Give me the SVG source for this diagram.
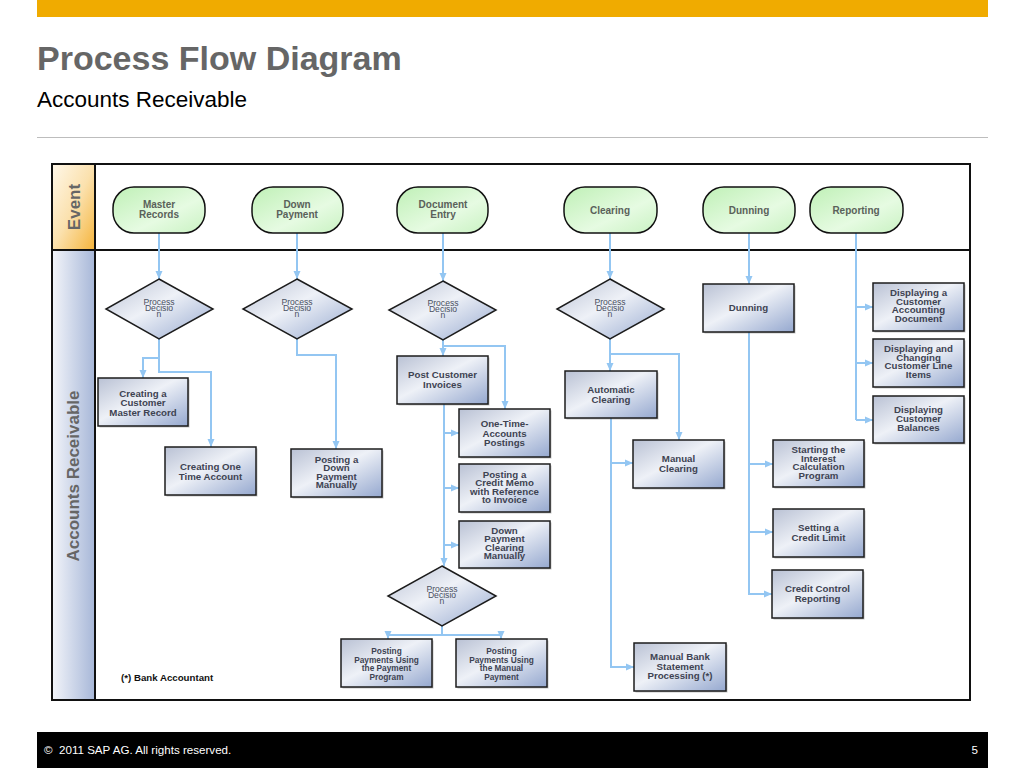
<svg xmlns="http://www.w3.org/2000/svg" width="1024" height="768" viewBox="0 0 1024 768">
<defs>
<linearGradient id="gBox" x1="0" y1="0" x2="1" y2="1">
<stop offset="0" stop-color="#b9c1d4"/>
<stop offset="0.45" stop-color="#eef1f7"/>
<stop offset="1" stop-color="#95a8cf"/>
</linearGradient>
<linearGradient id="gEv" x1="0" y1="0" x2="1" y2="1">
<stop offset="0" stop-color="#bff0b6"/>
<stop offset="0.6" stop-color="#e6fbe2"/>
<stop offset="1" stop-color="#c9f2c2"/>
</linearGradient>
<linearGradient id="gEvent" x1="0" y1="0" x2="1" y2="1">
<stop offset="0" stop-color="#fff8ea"/>
<stop offset="0.5" stop-color="#fbe1ae"/>
<stop offset="1" stop-color="#f5b43a"/>
</linearGradient>
<linearGradient id="gAR" x1="0" y1="0" x2="1" y2="0">
<stop offset="0" stop-color="#f3f5fa"/>
<stop offset="1" stop-color="#a7b7d8"/>
</linearGradient>
<marker id="arr" markerUnits="userSpaceOnUse" markerWidth="8" markerHeight="8" refX="8" refY="4" orient="auto">
<path d="M0,0.5 L8,4 L0,7.5 z" fill="#93c6f2"/>
</marker>
<style>
.sans{font-family:"Liberation Sans",Arial,sans-serif}
.box rect.b{fill:url(#gBox);stroke:#1c1c1c;stroke-width:1.5}
.box rect.s{fill:#555;opacity:0.35}
.bt{font-family:"Liberation Sans",Arial,sans-serif;font-weight:bold;font-size:9.7px;fill:#3e4352;text-anchor:middle}
.bt.sm{font-size:8.3px}
.ev rect{fill:url(#gEv);stroke:#111;stroke-width:1.5}
.et{font-family:"Liberation Sans",Arial,sans-serif;font-weight:bold;font-size:10px;fill:#5a615a;text-anchor:middle}
.dm polygon{fill:url(#gBox);stroke:#1c1c1c;stroke-width:1.5}
.dt{font-family:"Liberation Sans",Arial,sans-serif;font-size:8.6px;fill:#4a5062;text-anchor:middle}
.cn path{fill:none;stroke:#93c6f2;stroke-width:2}
.cn path.a{marker-end:url(#arr)}
</style>
</defs>
<rect width="1024" height="768" fill="#fff"/>
<!-- header -->
<rect x="37" y="0" width="951" height="17" fill="#f0ab00"/>
<text x="37" y="70" class="sans" font-size="34" font-weight="bold" fill="#666">Process Flow Diagram</text>
<text x="37" y="107" class="sans" font-size="22.5" fill="#000">Accounts Receivable</text>
<line x1="37" y1="137.5" x2="988" y2="137.5" stroke="#bdbdbd" stroke-width="1.2"/>
<!-- swimlanes -->
<g id="lanes">
<rect x="52" y="164" width="43" height="86" fill="url(#gEvent)"/>
<rect x="52" y="250" width="43" height="450" fill="url(#gAR)"/>
<rect x="52" y="164" width="918" height="536" fill="none" stroke="#111" stroke-width="2"/>
<line x1="52" y1="250" x2="970" y2="250" stroke="#111" stroke-width="2"/>
<line x1="95" y1="164" x2="95" y2="700" stroke="#111" stroke-width="2"/>
<text transform="translate(80,207) rotate(-90)" class="sans" font-size="17" font-weight="bold" fill="#666" text-anchor="middle">Event</text>
<text transform="translate(79,476) rotate(-90)" class="sans" font-size="17" font-weight="bold" fill="#666" text-anchor="middle">Accounts Receivable</text>
</g>
<!-- connectors -->
<g id="connectors" class="cn">
<path class="a" d="M159,233 V279"/>
<path class="a" d="M297,233 V279"/>
<path class="a" d="M443,233 V281"/>
<path class="a" d="M610,233 V279"/>
<path class="a" d="M749,233 V284"/>
<path d="M856,233 V420"/>
<path class="a" d="M856,307 H873"/>
<path class="a" d="M856,363 H873"/>
<path class="a" d="M856,420 H873"/>
<path class="a" d="M159,339 V372 H211 V447"/>
<path class="a" d="M159,358 H143 V378"/>
<path class="a" d="M297,339 V355 H336 V449"/>
<path class="a" d="M443,340 V356"/>
<path class="a" d="M443,346 H505 V409"/>
<path class="a" d="M444,404 V566"/>
<path class="a" d="M444,433 H459"/>
<path class="a" d="M444,488 H459"/>
<path class="a" d="M444,545 H459"/>
<path class="a" d="M610,339 V371"/>
<path class="a" d="M610,354 H679 V440"/>
<path class="a" d="M611,418 V667 H634"/>
<path class="a" d="M611,463 H633"/>
<path class="a" d="M749,332 V594 H772"/>
<path class="a" d="M749,464 H773"/>
<path class="a" d="M749,532 H773"/>
<path d="M442,626 V635 M388,635 H501"/>
<path class="a" d="M388,634 V639"/>
<path class="a" d="M501,634 V639"/>
</g>
<!-- event nodes -->
<g id="ev-master" class="ev"><rect x="113" y="187" width="92" height="46" rx="21"/><text class="et" x="159" y="207.5">Master</text><text class="et" x="159" y="217.5">Records</text></g>
<g id="ev-down" class="ev"><rect x="252" y="187" width="91" height="46" rx="21"/><text class="et" x="297" y="207.5">Down</text><text class="et" x="297" y="217.5">Payment</text></g>
<g id="ev-doc" class="ev"><rect x="397" y="187" width="91" height="46" rx="21"/><text class="et" x="443" y="207.5">Document</text><text class="et" x="443" y="217.5">Entry</text></g>
<g id="ev-clearing" class="ev"><rect x="564" y="187" width="93" height="46" rx="21"/><text class="et" x="610" y="213.5">Clearing</text></g>
<g id="ev-dunning" class="ev"><rect x="703" y="187" width="92" height="46" rx="21"/><text class="et" x="749" y="213.5">Dunning</text></g>
<g id="ev-reporting" class="ev"><rect x="810" y="187" width="93" height="46" rx="21"/><text class="et" x="856" y="213.5">Reporting</text></g>
<!-- decisions -->
<g id="dec1" class="dm"><polygon points="159,279 213,309 159,339 106,309"/><text class="dt" x="159" y="305">Process</text><text class="dt" x="159" y="311">Decisio</text><text class="dt" x="159" y="317">n</text></g>
<g id="dec2" class="dm"><polygon points="297,279 352,309 297,339 243,309"/><text class="dt" x="297" y="305">Process</text><text class="dt" x="297" y="311">Decisio</text><text class="dt" x="297" y="317">n</text></g>
<g id="dec3" class="dm"><polygon points="443,281 496,310 443,340 389,310"/><text class="dt" x="443" y="306">Process</text><text class="dt" x="443" y="312">Decisio</text><text class="dt" x="443" y="318">n</text></g>
<g id="dec4" class="dm"><polygon points="610,279 664,309 610,339 557,309"/><text class="dt" x="610" y="305">Process</text><text class="dt" x="610" y="311">Decisio</text><text class="dt" x="610" y="317">n</text></g>
<g id="dec5" class="dm"><polygon points="442,566 496,596 442,626 388,596"/><text class="dt" x="442" y="592">Process</text><text class="dt" x="442" y="598">Decisio</text><text class="dt" x="442" y="604">n</text></g>
<!-- process boxes -->
<g id="ccmr" class="box"><rect class="s" x="99.5" y="379.5" width="90" height="48"/><rect class="b" x="98" y="378" width="90" height="48"/><text class="bt" x="143" y="396.5">Creating a</text><text class="bt" x="143" y="406">Customer</text><text class="bt" x="143" y="415.5">Master Record</text></g>
<g id="cota" class="box"><rect class="s" x="166.5" y="448.5" width="91" height="48"/><rect class="b" x="165" y="447" width="91" height="48"/><text class="bt" x="210.5" y="469.5">Creating One</text><text class="bt" x="210.5" y="479.5">Time Account</text></g>
<g id="pdpm" class="box"><rect class="s" x="292.5" y="450.5" width="91" height="48"/><rect class="b" x="291" y="449" width="91" height="48"/><text class="bt" x="336.5" y="462.5">Posting a</text><text class="bt" x="336.5" y="471">Down</text><text class="bt" x="336.5" y="479.5">Payment</text><text class="bt" x="336.5" y="488">Manually</text></g>
<g id="pci" class="box"><rect class="s" x="398.5" y="357.5" width="91" height="48"/><rect class="b" x="397" y="356" width="91" height="48"/><text class="bt" x="442.5" y="377.5">Post Customer</text><text class="bt" x="442.5" y="387.5">Invoices</text></g>
<g id="otap" class="box"><rect class="s" x="460.5" y="410.5" width="91" height="48"/><rect class="b" x="459" y="409" width="91" height="48"/><text class="bt" x="504.5" y="427">One-Time-</text><text class="bt" x="504.5" y="436.5">Accounts</text><text class="bt" x="504.5" y="446">Postings</text></g>
<g id="pcm" class="box"><rect class="s" x="460.5" y="465.5" width="91" height="48"/><rect class="b" x="459" y="464" width="91" height="48"/><text class="bt" x="504.5" y="477.5">Posting a</text><text class="bt" x="504.5" y="486">Credit Memo</text><text class="bt" x="504.5" y="494.5">with Reference</text><text class="bt" x="504.5" y="503">to Invoice</text></g>
<g id="dpcm" class="box"><rect class="s" x="460.5" y="522.5" width="91" height="47"/><rect class="b" x="459" y="521" width="91" height="47"/><text class="bt" x="504.5" y="533.5">Down</text><text class="bt" x="504.5" y="542">Payment</text><text class="bt" x="504.5" y="550.5">Clearing</text><text class="bt" x="504.5" y="559">Manually</text></g>
<g id="ac" class="box"><rect class="s" x="566.5" y="372.5" width="92" height="47"/><rect class="b" x="565" y="371" width="92" height="47"/><text class="bt" x="611" y="392.5">Automatic</text><text class="bt" x="611" y="402.5">Clearing</text></g>
<g id="mc" class="box"><rect class="s" x="634.5" y="441.5" width="91" height="48"/><rect class="b" x="633" y="440" width="91" height="48"/><text class="bt" x="678.5" y="461.5">Manual</text><text class="bt" x="678.5" y="471.5">Clearing</text></g>
<g id="dun" class="box"><rect class="s" x="704.5" y="285.5" width="91" height="48"/><rect class="b" x="703" y="284" width="91" height="48"/><text class="bt" x="748.5" y="311">Dunning</text></g>
<g id="dcad" class="box"><rect class="s" x="874.5" y="284.5" width="91" height="48"/><rect class="b" x="873" y="283" width="91" height="48"/><text class="bt" x="918.5" y="296">Displaying a</text><text class="bt" x="918.5" y="304.5">Customer</text><text class="bt" x="918.5" y="313">Accounting</text><text class="bt" x="918.5" y="321.5">Document</text></g>
<g id="dccli" class="box"><rect class="s" x="874.5" y="340.5" width="91" height="48"/><rect class="b" x="873" y="339" width="91" height="48"/><text class="bt" x="918.5" y="352">Displaying and</text><text class="bt" x="918.5" y="360.5">Changing</text><text class="bt" x="918.5" y="369">Customer Line</text><text class="bt" x="918.5" y="377.5">Items</text></g>
<g id="dcb" class="box"><rect class="s" x="874.5" y="397.5" width="91" height="47"/><rect class="b" x="873" y="396" width="91" height="47"/><text class="bt" x="918.5" y="413">Displaying</text><text class="bt" x="918.5" y="422">Customer</text><text class="bt" x="918.5" y="431">Balances</text></g>
<g id="sicp" class="box"><rect class="s" x="774.5" y="441.5" width="91" height="47"/><rect class="b" x="773" y="440" width="91" height="47"/><text class="bt" x="818.5" y="453">Starting the</text><text class="bt" x="818.5" y="461.5">Interest</text><text class="bt" x="818.5" y="470">Calculation</text><text class="bt" x="818.5" y="478.5">Program</text></g>
<g id="scl" class="box"><rect class="s" x="774.5" y="510.5" width="91" height="48"/><rect class="b" x="773" y="509" width="91" height="48"/><text class="bt" x="818.5" y="530.5">Setting a</text><text class="bt" x="818.5" y="540.5">Credit Limit</text></g>
<g id="ccr" class="box"><rect class="s" x="773.5" y="571.5" width="91" height="48"/><rect class="b" x="772" y="570" width="91" height="48"/><text class="bt" x="817.5" y="591.5">Credit Control</text><text class="bt" x="817.5" y="601.5">Reporting</text></g>
<g id="mbsp" class="box"><rect class="s" x="635.5" y="644.5" width="92" height="48"/><rect class="b" x="634" y="643" width="92" height="48"/><text class="bt" x="680" y="660">Manual Bank</text><text class="bt" x="680" y="669.5">Statement</text><text class="bt" x="680" y="679">Processing (*)</text></g>
<g id="ppupp" class="box"><rect class="s" x="342.5" y="640.5" width="91" height="48"/><rect class="b" x="341" y="639" width="91" height="48"/><text class="bt sm" x="386.5" y="654">Posting</text><text class="bt sm" x="386.5" y="662.5">Payments Using</text><text class="bt sm" x="386.5" y="671">the Payment</text><text class="bt sm" x="386.5" y="679.5">Program</text></g>
<g id="ppump" class="box"><rect class="s" x="457.5" y="640.5" width="91" height="48"/><rect class="b" x="456" y="639" width="91" height="48"/><text class="bt sm" x="501.5" y="654">Posting</text><text class="bt sm" x="501.5" y="662.5">Payments Using</text><text class="bt sm" x="501.5" y="671">the Manual</text><text class="bt sm" x="501.5" y="679.5">Payment</text></g>
<text x="121" y="680.5" class="sans" font-size="9.7" font-weight="bold" fill="#111">(*) Bank Accountant</text>
<!-- footer -->
<rect x="37" y="732" width="951" height="36" fill="#000"/>
<text x="44" y="754" class="sans" font-size="11.6" fill="#fff" xml:space="preserve">©  2011 SAP AG. All rights reserved.</text>
<text x="978" y="754" class="sans" font-size="11.6" fill="#fff" text-anchor="end">5</text>
</svg>
